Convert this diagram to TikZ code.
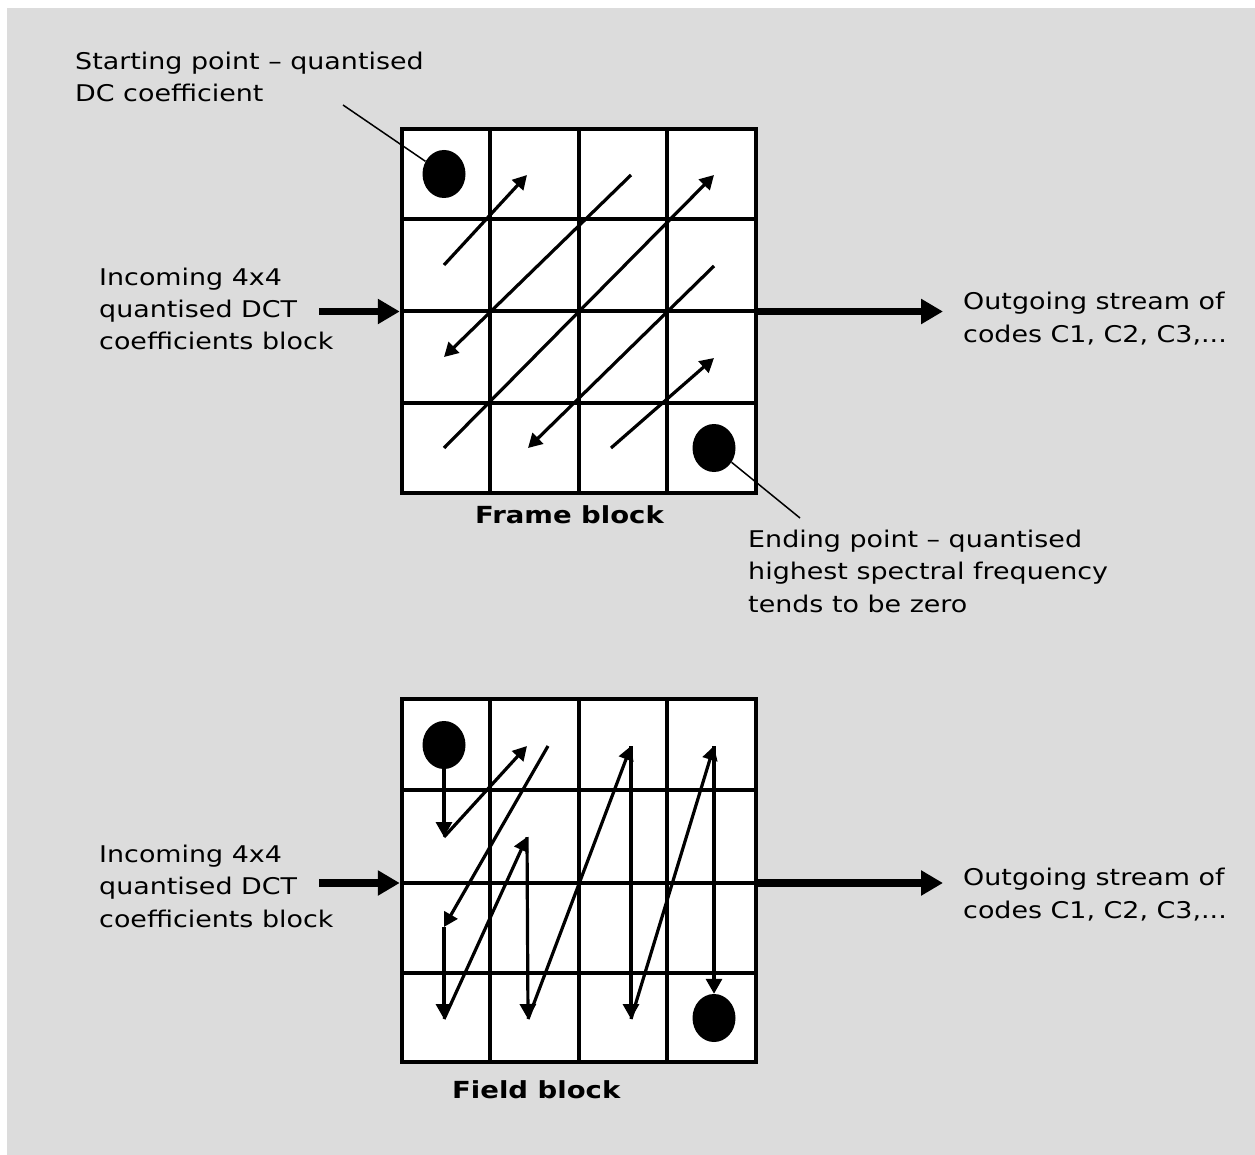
\documentclass[tikz,border=0pt]{standalone}
\usepackage{fontspec}
\setmainfont[FakeStretch=1.17]{DejaVu Sans}
\usetikzlibrary{arrows.meta,shapes.geometric}
\definecolor{panel}{RGB}{220,220,220}
\begin{document}
\begin{tikzpicture}[x=1pt,y=-1pt,
  % multi-line labels are placed by the baseline of their last line
  txt/.style={inner sep=0pt, align=left, anchor=base west,
    font=\fontsize{23}{32.5}\selectfont},
  caption/.style={inner sep=0pt, anchor=base west,
    font=\fontsize{23.5}{28}\selectfont\bfseries},
  blockframe/.style={draw, fill=white, line width=4.5pt, rectangle,
    minimum width=354pt, minimum height=364pt, inner sep=0pt},
  gridline/.style={line width=3.4pt},
  coef/.style={ellipse, fill=black, minimum width=43pt,
    minimum height=48pt, inner sep=0pt},
  scan/.style={line width=3.2pt, -{Triangle[length=14pt,width=15pt]}},
  drop/.style={line width=3.2pt, -{Triangle[length=15pt,width=16pt]}},
  leader/.style={line width=1.5pt},
  flow/.style={line width=7.5pt, -{Triangle[length=22pt,width=24pt]}},
]
\useasboundingbox (0,0) rectangle (1255,1155);
\fill[panel] (7,8) rectangle (1255,1155);

% ---------------- frame block ----------------
\node[blockframe] (frameblk) at (579,311) {};
\foreach \x in {490,579,667} \draw[gridline] (\x,129) -- (\x,493);
\foreach \y in {219,311,403} \draw[gridline] (402,\y) -- (756,\y);

\node[coef] (dcA) at (444,174) {};
\node[coef] (hfA) at (714,448) {};

\coordinate (a01) at (444,265);
\coordinate (a10) at (527,175);
\coordinate (a20) at (631,175);
\coordinate (a02) at (444,357);
\coordinate (a03) at (444,448);
\coordinate (a30) at (714,175);
\coordinate (a31) at (714,266);
\coordinate (a13) at (528,448);
\coordinate (a23) at (611,448);
\coordinate (a32) at (714,358);

\draw[scan] (a01) -- (a10);
\draw[scan] (a20) -- (a02);
\draw[scan] (a03) -- (a30);
\draw[scan] (a31) -- (a13);
\draw[scan] (a23) -- (a32);

\node[txt] (startlbl) at (75,102) {Starting point – quantised\\DC coefficient};
\coordinate (startlead) at (343,105);
\draw[leader] (startlead) -- (dcA);

\node[txt] (endlbl) at (748,612) {Ending point – quantised\\highest spectral frequency\\tends to be zero};
\coordinate (endlead) at (800,518);
\draw[leader] (hfA) -- (endlead);

\node[txt] (inA) at (99,350) {Incoming 4x4\\quantised DCT\\coefficients block};
\coordinate (inAstart) at (319,311.5);
\draw[flow] (inAstart) -- (inAstart -| frameblk.west);

\node[txt] (outA) at (963,342) {Outgoing stream of\\codes C1, C2, C3,...};
\coordinate (outAend) at (943,311.5);
\draw[flow] (outAend -| frameblk.east) -- (outAend);

\node[caption] (framecap) at (475,523) {Frame block};

% ---------------- field block ----------------
\node[blockframe, minimum height=363pt] (fieldblk) at (579,880.5) {};
\foreach \x in {490,579,667} \draw[gridline] (\x,699) -- (\x,1062);
\foreach \y in {790,883,973} \draw[gridline] (402,\y) -- (756,\y);

\node[coef] (dcB) at (444,745) {};
\node[coef] (hfB) at (714,1018) {};

\coordinate (b01) at (444,837);
\coordinate (b10) at (527,746);
\coordinate (b15) at (548,746);
\coordinate (b02) at (444,927);
\coordinate (b03) at (444,1019);
\coordinate (b11) at (527,837);
\coordinate (b13) at (528,1019);
\coordinate (b20) at (631,746);
\coordinate (b23) at (631,1019);
\coordinate (b30) at (714,746);

\draw[drop] (dcB) -- (b01);
\draw[scan] (b01) -- (b10);
\draw[scan] (b15) -- (b02);
\draw[drop] (b02) -- (b03);
\draw[scan] (b03) -- (b11);
\draw[drop] (b11) -- (b13);
\draw[scan] (b13) -- (b20);
\draw[drop] (b20) -- (b23);
\draw[scan] (b23) -- (b30);
\draw[drop] (b30) -- (hfB);

\node[txt] (inB) at (99,927) {Incoming 4x4\\quantised DCT\\coefficients block};
\coordinate (inBstart) at (319,883);
\draw[flow] (inBstart) -- (inBstart -| fieldblk.west);

\node[txt] (outB) at (963,918) {Outgoing stream of\\codes C1, C2, C3,...};
\coordinate (outBend) at (943,883);
\draw[flow] (outBend -| fieldblk.east) -- (outBend);

\node[caption] (fieldcap) at (452,1098) {Field block};
\end{tikzpicture}
\end{document}
